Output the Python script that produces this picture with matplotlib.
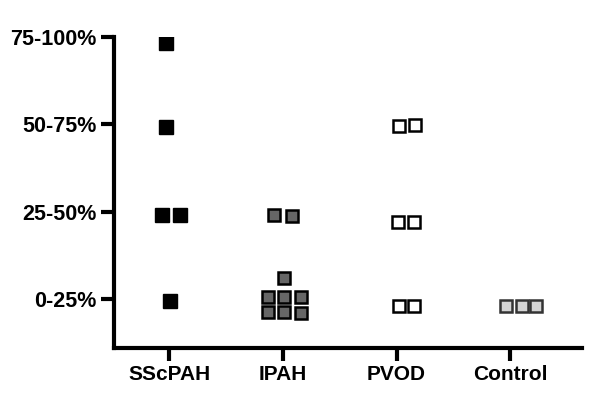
import matplotlib.pyplot as plt

plt.rcParams['font.family'] = ['Liberation Sans', 'DejaVu Sans']

groups = ['SScPAH', 'IPAH', 'PVOD', 'Control']
y_labels = ['0-25%', '25-50%', '50-75%', '75-100%']

# x (with jitter) and y positions of each point, in axis units
sscpah_x = [0.97, 0.97, 0.94, 1.10, 1.01]
sscpah_y = [3.93, 2.97, 1.96, 1.96, 0.98]
ipah_x = [1.92, 2.08, 2.01, 1.87, 2.01, 2.16, 1.87, 2.01, 2.16]
ipah_y = [1.96, 1.95, 1.24, 1.03, 1.03, 1.03, 0.85, 0.85, 0.84]
pvod_x = [3.02, 3.16, 3.01, 3.15, 3.02, 3.15]
pvod_y = [2.98, 2.99, 1.88, 1.88, 0.92, 0.92]
control_x = [3.96, 4.10, 4.23]
control_y = [0.92, 0.92, 0.92]

fig = plt.figure(figsize=(6, 4.11), dpi=100)
ax = fig.add_axes([0.19, 0.153, 0.78, 0.757])

ax.plot(sscpah_x, sscpah_y, 's', ms=10.5, mfc='black', mec='black', mew=1)
ax.plot(ipah_x, ipah_y, 's', ms=8.8, mfc='#666666', mec='black', mew=1.8)
ax.plot(pvod_x, pvod_y, 's', ms=8.8, mfc='white', mec='black', mew=1.8)
ax.plot(control_x, control_y, 's', ms=9, mfc='#d4d4d4', mec='#333333', mew=1.8)

ax.set_xlim(0.516, 4.63)
ax.set_ylim(0.44, 4)
ax.set_xticks(range(1, 5))
ax.set_xticklabels(groups)
ax.set_yticks(range(1, 5))
ax.set_yticklabels(y_labels)

for s in ['top', 'right']:
    ax.spines[s].set_visible(False)
for s in ['left', 'bottom']:
    ax.spines[s].set_linewidth(3)
ax.tick_params(width=3, length=9.5, pad=3)
ax.tick_params(axis='y', labelsize=15.5)
ax.tick_params(axis='x', labelsize=15)
for lab in ax.get_xticklabels() + ax.get_yticklabels():
    lab.set_fontweight('bold')

fig.savefig('out.png', dpi=100)
